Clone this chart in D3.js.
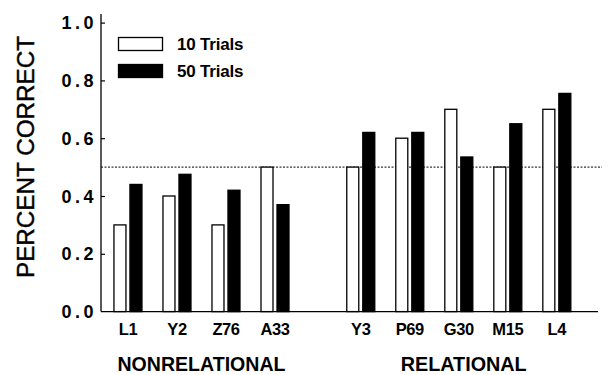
<!DOCTYPE html>
<html>
<head>
<meta charset="utf-8">
<script src="https://cdn.jsdelivr.net/npm/d3@7"></script>
<style>
  body { margin: 0; background: #fff; }
  svg { display: block; font-family: "Liberation Sans", Arial, sans-serif; }
</style>
</head>
<body>
<svg width="610" height="375"></svg>
<script>
// data
const nonrelational = ["L1", "Y2", "Z76", "A33"];
const relational = ["Y3", "P69", "G30", "M15", "L4"];
const trials10 = [0.30, 0.40, 0.30, 0.50, 0.50, 0.60, 0.70, 0.50, 0.70];
const trials50 = [0.44, 0.475, 0.42, 0.37, 0.62, 0.62, 0.535, 0.65, 0.755];
const series = ["10 Trials", "50 Trials"];
const yTicks = [0, 0.2, 0.4, 0.6, 0.8, 1.0];
const chance = 0.5;

const svg = d3.select("svg");
const plot = { left: 101, right: 598, top: 22.6, bottom: 311.6 };
const groupGap = 0.75;

const rows = nonrelational.map((c, i) => ({ cat: c, slot: i, v: [trials10[i], trials50[i]] }))
  .concat(relational.map((c, j) => {
    const i = nonrelational.length + j;
    return { cat: c, slot: i + groupGap, v: [trials10[i], trials50[i]] };
  }));

const x = d3.scaleLinear().domain([-0.55, 9.59]).range([plot.left, plot.right]);
const inner = d3.scaleBand().domain(series).range([-14, 14]).paddingInner(0.25);
const y = d3.scaleLinear().domain([0, 1]).range([plot.bottom, plot.top]);

// y axis
const yAxis = svg.append("g")
  .attr("transform", `translate(${plot.left},0)`)
  .call(d3.axisRight(y).tickValues(yTicks).tickSize(4).tickFormat(d3.format(".1f")));
yAxis.select(".domain").remove();
yAxis.selectAll(".tick text").remove();
yAxis.selectAll(".tick line").attr("stroke", "#000").attr("stroke-width", 1.2);
yAxis.selectAll(".tick").filter(d => d === 0).remove();

svg.append("g").selectAll("text")
  .data(yTicks)
  .join("text")
  .attr("x", 97)
  .attr("y", d => y(d) + 6.5)
  .attr("text-anchor", "end")
  .attr("font-size", 18)
  .attr("font-weight", "bold")
  .attr("letter-spacing", 3.5)
  .text(d3.format(".1f"));

svg.append("line")
  .attr("x1", plot.left).attr("x2", plot.left)
  .attr("y1", y(1.03)).attr("y2", plot.bottom)
  .attr("stroke", "#000").attr("stroke-width", 1.3);

svg.append("text")
  .attr("transform", "translate(34,157) rotate(-90)")
  .attr("text-anchor", "middle")
  .attr("font-size", 23)
  .attr("textLength", 242)
  .attr("lengthAdjust", "spacingAndGlyphs")
  .attr("stroke", "#000")
  .attr("stroke-width", 0.4)
  .text("PERCENT CORRECT");

// x baseline
svg.append("line")
  .attr("x1", plot.left).attr("x2", plot.right)
  .attr("y1", plot.bottom).attr("y2", plot.bottom)
  .attr("stroke", "#000").attr("stroke-width", 1.3);

// chance line
svg.append("line")
  .attr("x1", plot.left).attr("x2", plot.right + 4)
  .attr("y1", y(chance)).attr("y2", y(chance))
  .attr("stroke", "#000").attr("stroke-width", 1)
  .attr("stroke-dasharray", "2,1.5");

// bars
const groups = svg.append("g").selectAll("g")
  .data(rows)
  .join("g")
  .attr("transform", d => `translate(${x(d.slot)},0)`);

groups.selectAll("rect")
  .data(d => d.v.map((v, k) => ({ s: series[k], v: v })))
  .join("rect")
  .attr("x", d => inner(d.s))
  .attr("width", inner.bandwidth())
  .attr("y", d => y(d.v))
  .attr("height", d => plot.bottom - y(d.v))
  .attr("fill", (d, k) => k === 0 ? "#fff" : "#000")
  .attr("stroke", "#000")
  .attr("stroke-width", 1.3);

// category labels
groups.append("text")
  .attr("y", 335)
  .attr("text-anchor", "middle")
  .attr("font-size", 16.5)
  .attr("font-weight", "bold")
  .attr("letter-spacing", -0.4)
  .text(d => d.cat);

// group labels
const groupLabels = [
  { name: "NONRELATIONAL", slot: d3.mean(rows.slice(0, 4), d => d.slot), len: 168 },
  { name: "RELATIONAL", slot: d3.mean(rows.slice(4), d => d.slot) + 0.1, len: 126 }
];
svg.append("g").selectAll("text")
  .data(groupLabels)
  .join("text")
  .attr("x", d => x(d.slot))
  .attr("y", 371)
  .attr("text-anchor", "middle")
  .attr("font-size", 21)
  .attr("font-weight", "bold")
  .attr("textLength", d => d.len)
  .attr("lengthAdjust", "spacingAndGlyphs")
  .text(d => d.name);

// legend
const legend = svg.append("g").selectAll("g")
  .data(series)
  .join("g")
  .attr("transform", (d, i) => `translate(118.5,${37.5 + i * 27})`);

legend.append("rect")
  .attr("width", 44).attr("height", 13)
  .attr("fill", (d, i) => i === 0 ? "#fff" : "#000")
  .attr("stroke", "#000").attr("stroke-width", 1.3);

legend.append("text")
  .attr("x", 58.5).attr("y", 12.5)
  .attr("font-size", 17)
  .attr("font-weight", "bold")
  .attr("letter-spacing", -0.2)
  .text(d => d);
</script>
</body>
</html>
